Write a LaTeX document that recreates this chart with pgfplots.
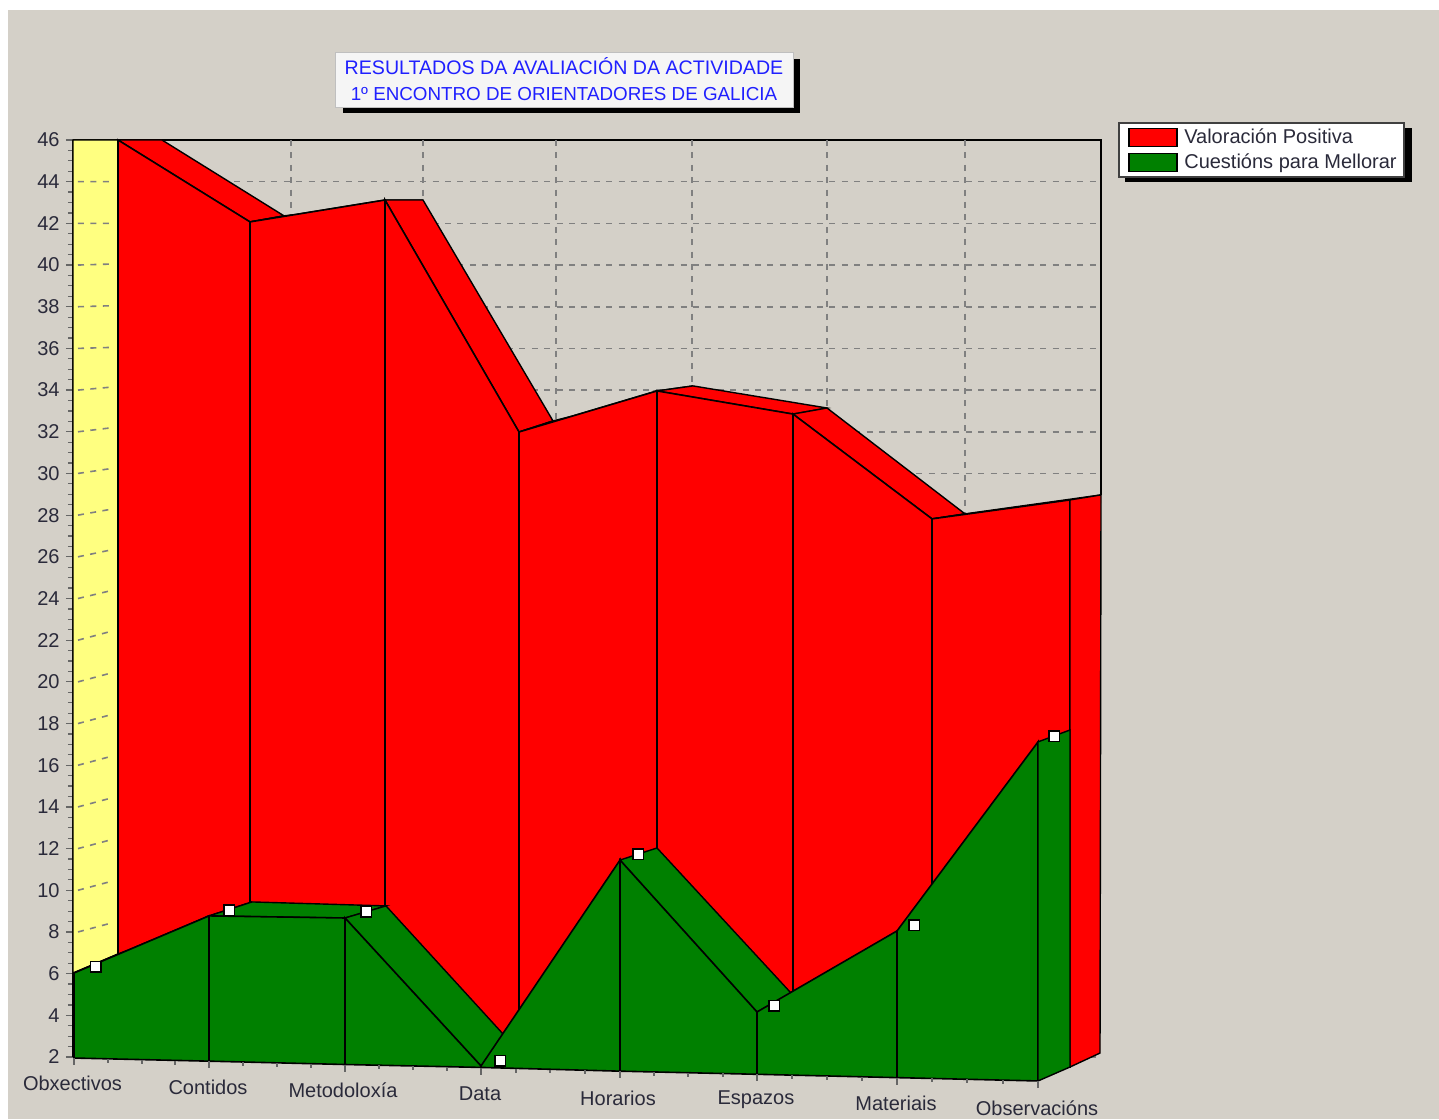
\documentclass[border=0pt]{standalone}
\usepackage{pgfplots}
\pgfplotsset{compat=1.18}
\usepackage{fontspec}
\setmainfont{Liberation Sans}
\definecolor{bg}{HTML}{D4D0C8}
\definecolor{wall}{HTML}{FFFF80}
\definecolor{ttxt}{HTML}{2A2A3A}
\definecolor{gr}{HTML}{008000}
\definecolor{titleb}{HTML}{2020FF}
\begin{document}
\begin{tikzpicture}[x=1pt,y=1pt]
\path[use as bounding box] (-36.5,-31) rectangle (683,528.5);
\fill[white] (-36.5,-31) rectangle (683,528.5);
\fill[bg] (-32.5,-31) rectangle (683,523.5);
% shadows of the title box and of the legend
\fill[black] (135,499) rectangle (363.5,472);
\fill[black] (526,464.5) rectangle (669.5,437.5);
\begin{axis}[
  at={(0,0)},anchor=origin,
  scale only axis,width=514pt,height=458.5pt,
  xmin=73,xmax=1101,ymin=2,ymax=46,
  clip=false,
  axis x line=none,
  axis y line*=left,
  axis line style={black,line width=1.2pt,-},
  ytick={2,4,...,46},minor y tick num=3,
  tick align=outside,
  major tick length=3.5pt,minor tick length=2.5pt,
  every tick/.style={black!60,line width=0.6pt},
  every y tick label/.append style={font=\fontsize{10}{12}\selectfont,text=ttxt,inner sep=1.5pt,xshift=-1.5pt},
  /pgf/number format/assume math mode=true,
  ymajorgrids,
  major grid style={black!50,dash pattern=on 3pt off 3.2pt,line width=0.8pt},
  unbounded coords=jump,
  every axis title shift=0pt,
  title={RESULTADOS DA AVALIACIÓN DA ACTIVIDADE\\{\fontsize{9.4}{13}\selectfont 1º ENCONTRO DE ORIENTADORES DE GALICIA}},
  title style={at={(axis cs:564,48.9)},anchor=center,yshift=0pt,align=center,fill=white!96!black,
    draw=black!25,line width=0.5pt,inner sep=0pt,minimum width=229pt,minimum height=27.5pt,text=titleb,
    font=\fontsize{9.8}{13}\selectfont},
  legend style={at={(axis cs:1118,46.87)},anchor=north west,draw=black!75,line width=0.9pt,fill=white,
    font=\fontsize{10}{12}\selectfont,text=ttxt,inner xsep=2.5pt,inner ysep=1.6pt,row sep=1.5pt,
    nodes={inner sep=1.2pt}},
  legend cell align=left,
]
\addlegendimage{legend image code/.code={\path[draw=none] (-2.5pt,0pt) -- (26.5pt,0pt);\draw[fill=red,draw=black,line width=0.7pt] (0pt,-4.5pt) rectangle (24pt,4.5pt);}}
\addlegendentry{Valoración Positiva}
\addlegendimage{legend image code/.code={\path[draw=none] (-2.5pt,0pt) -- (26.5pt,0pt);\draw[fill=gr,draw=black,line width=0.7pt] (0pt,-4.5pt) rectangle (24pt,4.5pt);}}
\addlegendentry{Cuestións para Mellorar}
% walls
\addplot[forget plot,black,line width=0.8pt] coordinates {(73,46)(1101,46)(1101,28.97)};
\addplot[forget plot,black!50,dash pattern=on 3pt off 3.2pt,line width=0.8pt] coordinates {
 (291,46)(291,20)(291,nan)(423,46)(423,20)(423,nan)(556,46)(556,20)(556,nan)
 (692,46)(692,20)(692,nan)(827,46)(827,20)(827,nan)(965,46)(965,20)};
\addplot[forget plot,fill=wall,draw=black,line width=0.7pt] coordinates {(73,46)(118,46)(118,6.94)(73,6.03)} -- cycle;
\addplot[forget plot,black!50,dash pattern=on 3pt off 3.2pt,line width=0.8pt] coordinates {
 (78,44)(113,44)(113,nan)(78,42)(113,42)(113,nan)(78,40)(113,40.05)(113,nan)(78,38)(113,38.05)(113,nan)
 (78,36)(113,36.05)(113,nan)(78,34)(113,34.15)(113,nan)(78,32)(113,32.2)(113,nan)(78,30)(113,30.25)(113,nan)
 (78,28)(113,28.3)(113,nan)(78,26)(113,26.35)(113,nan)(78,24)(113,24.4)(113,nan)(78,22)(113,22.45)(113,nan)
 (78,20)(113,20.45)(113,nan)(78,18)(113,18.45)(113,nan)(78,16)(113,16.45)(113,nan)(78,14)(113,14.45)(113,nan)
 (78,12)(113,12.45)(113,nan)(78,10)(113,10.45)(113,nan)(78,8)(113,8.45)};
% Valoración Positiva: upper faces
\addplot[forget plot,fill=red,draw=black,line width=0.7pt] coordinates {(118,46)(162,46)(284,42.36)(250,42.07)} -- cycle;
\addplot[forget plot,fill=red,draw=black,line width=0.7pt] coordinates {(250,42.07)(284,42.36)(423,43.12)(385,43.12)} -- cycle;
\addplot[forget plot,fill=red,draw=black,line width=0.7pt] coordinates {(385,43.12)(423,43.12)(553,32.52)(519,31.99)} -- cycle;
\addplot[forget plot,fill=red,draw=black,line width=0.7pt] coordinates {(519,31.99)(553,32.52)(693,34.2)(657,33.96)} -- cycle;
\addplot[forget plot,fill=red,draw=black,line width=0.7pt] coordinates {(657,33.96)(693,34.2)(827,33.14)(793,32.85)} -- cycle;
\addplot[forget plot,fill=red,draw=black,line width=0.7pt] coordinates {(793,32.85)(827,33.14)(965,28.06)(932,27.82)} -- cycle;
\addplot[forget plot,fill=red,draw=black,line width=0.7pt] coordinates {(932,27.82)(965,28.06)(1101,28.97)(1070,28.73)} -- cycle;
% Valoración Positiva: front faces and right side
\addplot[forget plot,fill=red,draw=black,line width=0.8pt] coordinates {(118,46)(250,42.07)(250,2.4)(118,2.82)} -- cycle;
\addplot[forget plot,fill=red,draw=black,line width=0.8pt] coordinates {(250,42.07)(385,43.12)(385,2.2)(250,2.4)} -- cycle;
\addplot[forget plot,fill=red,draw=black,line width=0.8pt] coordinates {(385,43.12)(519,31.99)(519,2.0)(385,2.2)} -- cycle;
\addplot[forget plot,fill=red,draw=black,line width=0.8pt] coordinates {(519,31.99)(657,33.96)(657,1.9)(519,2.0)} -- cycle;
\addplot[forget plot,fill=red,draw=black,line width=0.8pt] coordinates {(657,33.96)(793,32.85)(793,1.8)(657,1.9)} -- cycle;
\addplot[forget plot,fill=red,draw=black,line width=0.8pt] coordinates {(793,32.85)(932,27.82)(932,1.7)(793,1.8)} -- cycle;
\addplot[forget plot,fill=red,draw=black,line width=0.8pt] coordinates {(932,27.82)(1070,28.73)(1070,1.52)(932,1.7)} -- cycle;
\addplot[forget plot,fill=red,draw=black,line width=0.7pt] coordinates {(1070,28.73)(1101,28.97)(1100,2.19)(1070,1.52)} -- cycle;
% Cuestións para Mellorar: upper faces
\addplot[forget plot,fill=gr,draw=black,line width=0.7pt] coordinates {(74,6.03)(209,8.77)(252,9.44)(118,6.94)} -- cycle;
\addplot[forget plot,fill=gr,draw=black,line width=0.7pt] coordinates {(209,8.77)(345,8.67)(386,9.25)(252,9.44)} -- cycle;
\addplot[forget plot,fill=gr,draw=black,line width=0.7pt] coordinates {(345,8.67)(481,1.57)(525,1.95)(386,9.25)} -- cycle;
\addplot[forget plot,fill=gr,draw=black,line width=0.7pt] coordinates {(620,11.45)(757,4.16)(791,5.07)(657,12.03)} -- cycle;
% Cuestións para Mellorar: front faces and right side
\addplot[forget plot,fill=gr,draw=black,line width=0.8pt] coordinates {(74,6.03)(209,8.77)(209,1.80)(74,1.95)} -- cycle;
\addplot[forget plot,fill=gr,draw=black,line width=0.8pt] coordinates {(209,8.77)(345,8.67)(345,1.64)(209,1.80)} -- cycle;
\addplot[forget plot,fill=gr,draw=black,line width=0.8pt] coordinates {(345,8.67)(481,1.57)(481,1.50)(345,1.64)} -- cycle;
\addplot[forget plot,fill=gr,draw=black,line width=0.8pt] coordinates {(481,1.57)(620,11.45)(620,1.32)(481,1.50)} -- cycle;
\addplot[forget plot,fill=gr,draw=black,line width=0.8pt] coordinates {(620,11.45)(757,4.16)(757,1.17)(620,1.32)} -- cycle;
\addplot[forget plot,fill=gr,draw=black,line width=0.8pt] coordinates {(757,4.16)(897,8.05)(897,1.01)(757,1.17)} -- cycle;
\addplot[forget plot,fill=gr,draw=black,line width=0.8pt] coordinates {(897,8.05)(1038,17.12)(1038,0.85)(897,1.01)} -- cycle;
\addplot[forget plot,fill=gr,draw=black,line width=0.7pt] coordinates {(1038,17.12)(1070,17.69)(1070,1.52)(1038,0.85)} -- cycle;
% x ticks on the slanted base
\addplot[forget plot,black!60,line width=0.6pt] coordinates {
 (74,1.95)(74,1.61)(74,nan)(108,1.91)(108,1.72)(108,nan)(142,1.87)(142,1.68)(142,nan)(175,1.83)(175,1.64)(175,nan)
 (209,1.80)(209,1.46)(209,nan)(243,1.76)(243,1.57)(243,nan)(277,1.72)(277,1.53)(277,nan)(311,1.68)(311,1.49)(311,nan)
 (345,1.64)(345,1.30)(345,nan)(379,1.60)(379,1.41)(379,nan)(413,1.56)(413,1.37)(413,nan)(447,1.52)(447,1.33)(447,nan)
 (481,1.48)(481,1.14)(481,nan)(516,1.44)(516,1.25)(516,nan)(550,1.40)(550,1.21)(550,nan)(585,1.36)(585,1.17)(585,nan)
 (620,1.32)(620,0.98)(620,nan)(654,1.29)(654,1.10)(654,nan)(688,1.25)(688,1.06)(688,nan)(723,1.21)(723,1.02)(723,nan)
 (757,1.17)(757,0.83)(757,nan)(792,1.13)(792,0.94)(792,nan)(827,1.09)(827,0.90)(827,nan)(862,1.05)(862,0.86)(862,nan)
 (897,1.01)(897,0.67)(897,nan)(932,0.97)(932,0.78)(932,nan)(967,0.93)(967,0.74)(967,nan)(1003,0.89)(1003,0.70)(1003,nan)
 (1038,0.85)(1038,0.51)};
% value markers
\addplot[forget plot,only marks,mark=square*,mark size=2.6pt,mark options={fill=white,draw=black,line width=0.7pt}] coordinates {
 (96,6.32)(229,9.05)(366,8.96)(500,1.81)(638,11.74)(774,4.45)(914,8.33)(1054,17.40)};
% category labels
\begin{scope}[every node/.style={font=\fontsize{10}{12}\selectfont,text=ttxt,anchor=center}]
\node at (axis cs:72.5,0.75) {Obxectivos};
\node at (axis cs:208,0.56) {Contidos};
\node at (axis cs:343,0.42) {Metodoloxía};
\node at (axis cs:480,0.22) {Data};
\node at (axis cs:618,0.03) {Horarios};
\node at (axis cs:756,-0.06) {Espazos};
\node at (axis cs:896,-0.21) {Materiais};
\node at (axis cs:1037,-0.45) {Observacións};
\end{scope}
\end{axis}
\end{tikzpicture}
\end{document}
